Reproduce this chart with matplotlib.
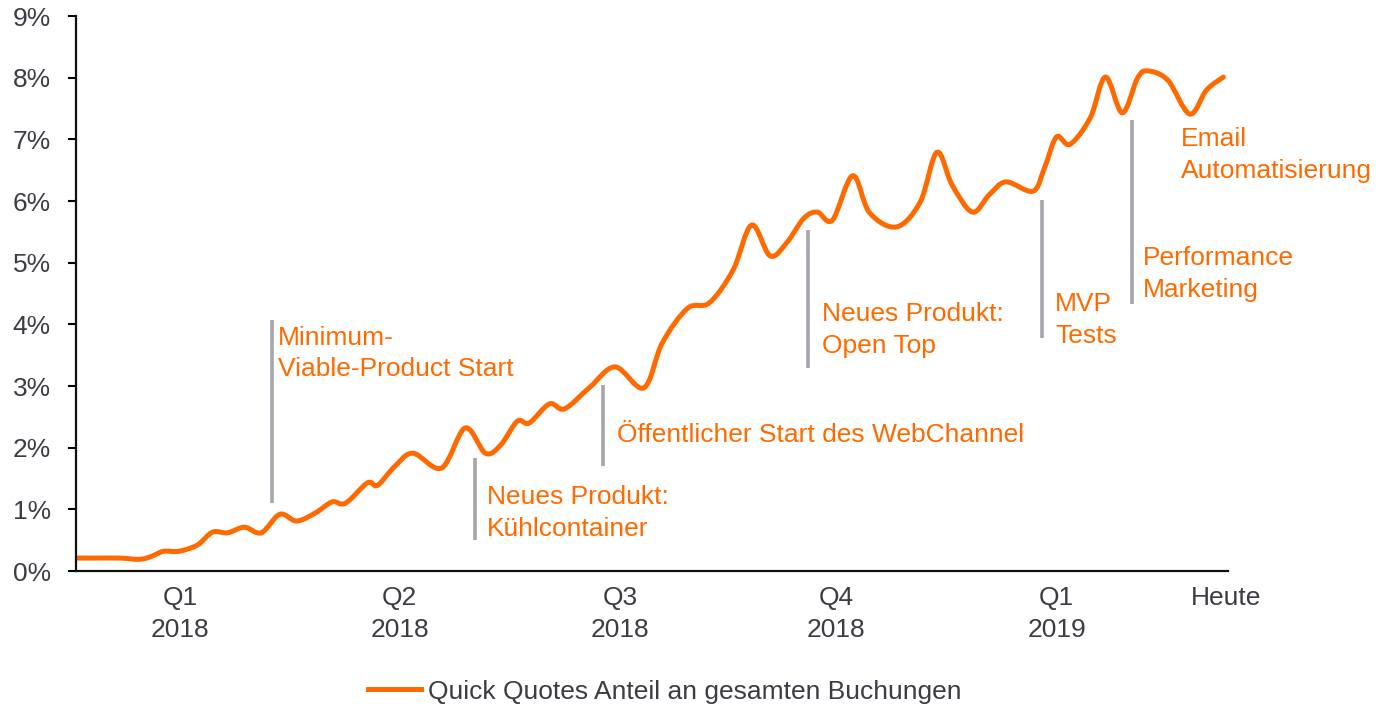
import numpy as np
import matplotlib
matplotlib.use("Agg")
import matplotlib.pyplot as plt
from matplotlib.path import Path
from matplotlib.patches import PathPatch
from matplotlib.lines import Line2D

plt.rcParams['font.family'] = ['Liberation Sans', 'DejaVu Sans']

# weeks since start of axis, share of bookings in %
weeks = [0.0, 1.4, 2.6, 3.8, 4.5, 5.2, 6.1, 7.2, 8.1, 9.0, 10.0, 11.0, 12.1, 13.1,
         14.2, 15.2, 16.0, 17.3, 17.9, 18.9, 20.0, 21.7, 23.1, 24.3, 25.2,
         26.2, 26.9, 28.1, 29.0, 30.5, 32.0, 33.7, 34.8, 36.3, 37.6, 39.0, 40.1,
         41.2, 42.2, 43.2, 44.0, 44.9, 46.1, 47.1, 48.7, 50.1, 51.1, 52.0, 53.2,
         54.2, 55.2, 56.8, 57.5, 58.2, 59.0, 60.2, 61.1, 62.1, 63.0, 63.6, 64.8,
         66.1, 67.1, 68.1]
share = [0.21, 0.21, 0.21, 0.19, 0.24, 0.32, 0.32, 0.42, 0.63, 0.62, 0.71, 0.62, 0.92, 0.81,
         0.94, 1.12, 1.10, 1.43, 1.39, 1.69, 1.91, 1.67, 2.32, 1.91, 2.04,
         2.43, 2.40, 2.71, 2.63, 2.98, 3.31, 2.97, 3.70, 4.26, 4.35, 4.88, 5.61,
         5.11, 5.33, 5.72, 5.82, 5.69, 6.41, 5.81, 5.58, 5.98, 6.79, 6.26, 5.82,
         6.10, 6.31, 6.16, 6.55, 7.04, 6.92, 7.35, 8.01, 7.43, 7.99, 8.11, 7.96,
         7.41, 7.80, 8.01]

tick_pos = [6.2, 19.2, 32.3, 45.1, 58.2, 68.25]
tick_labels = ['Q1\n2018', 'Q2\n2018', 'Q3\n2018', 'Q4\n2018', 'Q1\n2019', 'Heute']

# milestones: marker x, marker y range, label
event_x = [11.63, 23.68, 31.28, 43.44, 57.33, 62.67]
event_lo = [1.10, 0.50, 1.70, 3.29, 3.78, 4.33]
event_hi = [4.07, 1.83, 3.02, 5.53, 6.02, 7.31]
labels = ['Minimum-\nViable-Product Start', 'Neues Produkt:\nKühlcontainer',
          'Öffentlicher Start des WebChannel', 'Neues Produkt:\nOpen Top',
          'MVP\nTests', 'Performance\nMarketing', 'Email\nAutomatisierung']
label_x = [12.0, 24.4, 32.1, 44.3, 58.1, 63.3, 65.6]
label_y = [3.53, 0.94, 2.21, 3.91, 4.07, 4.82, 6.75]

ORANGE = '#FF6A00'
GREY = '#A5A5AD'
TEXT = '#3C3C44'
FS = 19


def smooth_path(xs, ys):
    # Catmull-Rom spline through the points, as cubic bezier segments
    p = np.column_stack([xs, ys])
    ext = np.vstack([p[0], p, p[-1]])
    verts = [p[0]]
    codes = [Path.MOVETO]
    for i in range(1, len(ext) - 2):
        p0, p1, p2, p3 = ext[i - 1], ext[i], ext[i + 1], ext[i + 2]
        verts += [p1 + (p2 - p0) / 6, p2 - (p3 - p1) / 6, p2]
        codes += [Path.CURVE4] * 3
    return Path(verts, codes)


fig = plt.figure(figsize=(13.76, 7.08), dpi=100)
ax = fig.add_axes([0.0552, 0.1935, 0.8372, 0.7839])

ax.add_patch(PathPatch(smooth_path(weeks, share), facecolor='none', edgecolor=ORANGE,
                       lw=3.6, capstyle='round', joinstyle='round'))

for x, lo, hi in zip(event_x, event_lo, event_hi):
    ax.plot([x, x], [lo, hi], color=GREY, lw=2.6, solid_capstyle='butt')

for x, y, t in zip(label_x, label_y, labels):
    ax.text(x, y, t, color=ORANGE, fontsize=FS, ha='left', va='center', linespacing=1.4)

ax.set_xlim(0, 68.37)
ax.set_ylim(0, 9)
ax.set_yticks(range(10))
ax.set_yticklabels([f'{i}%' for i in range(10)])
ax.set_xticks(tick_pos)
ax.set_xticklabels(tick_labels)
for lab in ax.get_xticklabels():
    lab.set_linespacing(1.4)

ax.tick_params(axis='x', length=0, pad=11, labelsize=FS, labelcolor=TEXT)
ax.tick_params(axis='y', length=6, width=1.5, pad=12, labelsize=FS, labelcolor=TEXT)
for s in ['top', 'right']:
    ax.spines[s].set_visible(False)
for s in ['left', 'bottom']:
    ax.spines[s].set_linewidth(1.6)
    ax.spines[s].set_color('#111111')

handle = Line2D([], [], color=ORANGE, lw=3.6)
fig.legend([handle], ['Quick Quotes Anteil an gesamten Buchungen'], loc='center',
           bbox_to_anchor=(0.483, 0.023), frameon=False, fontsize=FS,
           handlelength=2.0, handletextpad=0.25, labelcolor=TEXT)

fig.savefig('out.png', dpi=100)
